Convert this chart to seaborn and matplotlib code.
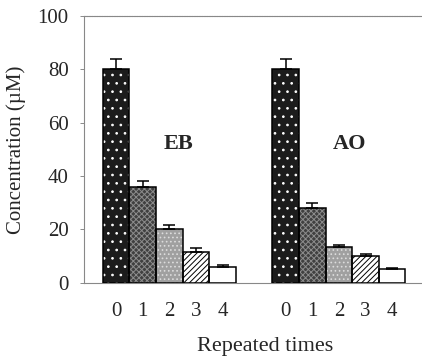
import numpy as np
import pandas as pd
import seaborn as sns
import matplotlib.pyplot as plt

# Data
dyes = ['EB', 'AO']
times = ['0', '1', '2', '3', '4']
eb_conc = [80.0, 36.0, 20.0, 11.5, 6.0]
eb_err = [4.0, 2.0, 1.5, 1.5, 0.5]
ao_conc = [80.0, 28.0, 13.5, 10.0, 5.0]
ao_err = [4.0, 2.0, 0.7, 0.8, 0.6]

df = pd.DataFrame({
    'dye': [d for d in dyes for _ in times],
    'time': times * 2,
    'conc': eb_conc + ao_conc,
    'err': eb_err + ao_err,
})

sns.set_style('white')
plt.rcParams['font.family'] = ['Liberation Serif', 'DejaVu Serif']
plt.rcParams['hatch.linewidth'] = 0.7

fig = plt.figure(figsize=(4.22, 3.58), dpi=100)
ax = fig.add_axes([0.199, 0.21, 0.801, 0.745])

sns.barplot(data=df, x='dye', y='conc', hue='time', width=0.785,
            errorbar=None, legend=False, ax=ax, linewidth=0)

# fill styles per repeat
styles = [
    dict(fc='#1c1c1c', hatch='..', hc='white'),
    dict(fc='#404040', hatch='xxxxxx', hc='#8c8c8c'),
    dict(fc='#a0a0a0', hatch='....', hc='#dcdcdc'),
    dict(fc='white', hatch='//////', hc='black'),
    dict(fc='white', hatch=None, hc='black'),
]
centers, tops, errs, labels = [], [], [], []
for k, cont in enumerate(ax.containers):
    st = styles[k]
    for j, p in enumerate(cont.patches):
        p.set_facecolor(st['fc'])
        p.set_edgecolor(st['hc'])
        p.set_linewidth(0)
        if st['hatch']:
            p.set_hatch(st['hatch'])
        x0, w, h = p.get_x(), p.get_width(), p.get_height()
        ax.add_patch(plt.Rectangle((x0, 0), w, h, fill=False,
                                   edgecolor='black', linewidth=1.1, zorder=3))
        centers.append(x0 + w / 2)
        tops.append(h)
        errs.append(df[(df.dye == dyes[j]) & (df.time == times[k])]['err'].iloc[0])
        labels.append(times[k])

ax.errorbar(centers, tops, yerr=[np.zeros(len(errs)), errs], fmt='none',
            ecolor='black', elinewidth=1.1, capsize=4, capthick=1.1, zorder=4)

ax.set_xlim(-0.504, 1.49)
ax.set_ylim(0, 100)
ax.set_yticks([0, 20, 40, 60, 80, 100])
ax.set_xticks(centers)
ax.set_xticklabels(labels)
ax.tick_params(axis='x', length=0, pad=14, labelsize=15)
ax.tick_params(axis='y', length=3, direction='out', left=True, width=0.6,
               color='#777777', labelsize=15, pad=8)

for s in ['left', 'top', 'bottom']:
    ax.spines[s].set_color('#888888')
    ax.spines[s].set_linewidth(0.8)
ax.spines['top'].set_linestyle((0, (1, 0.5)))
ax.spines['right'].set_visible(False)

ax.text(0.055, 52, 'EB', fontsize=16, fontweight='bold', ha='center', va='center')
ax.text(1.06, 52, 'AO', fontsize=16, fontweight='bold', ha='center', va='center')

ax.set_xlabel('Repeated times', fontsize=16)
ax.xaxis.set_label_coords(0.535, -0.205)
ax.set_ylabel('Concentration (\u00b5M)', fontsize=15, labelpad=8)

fig.savefig('out.png', dpi=100)
